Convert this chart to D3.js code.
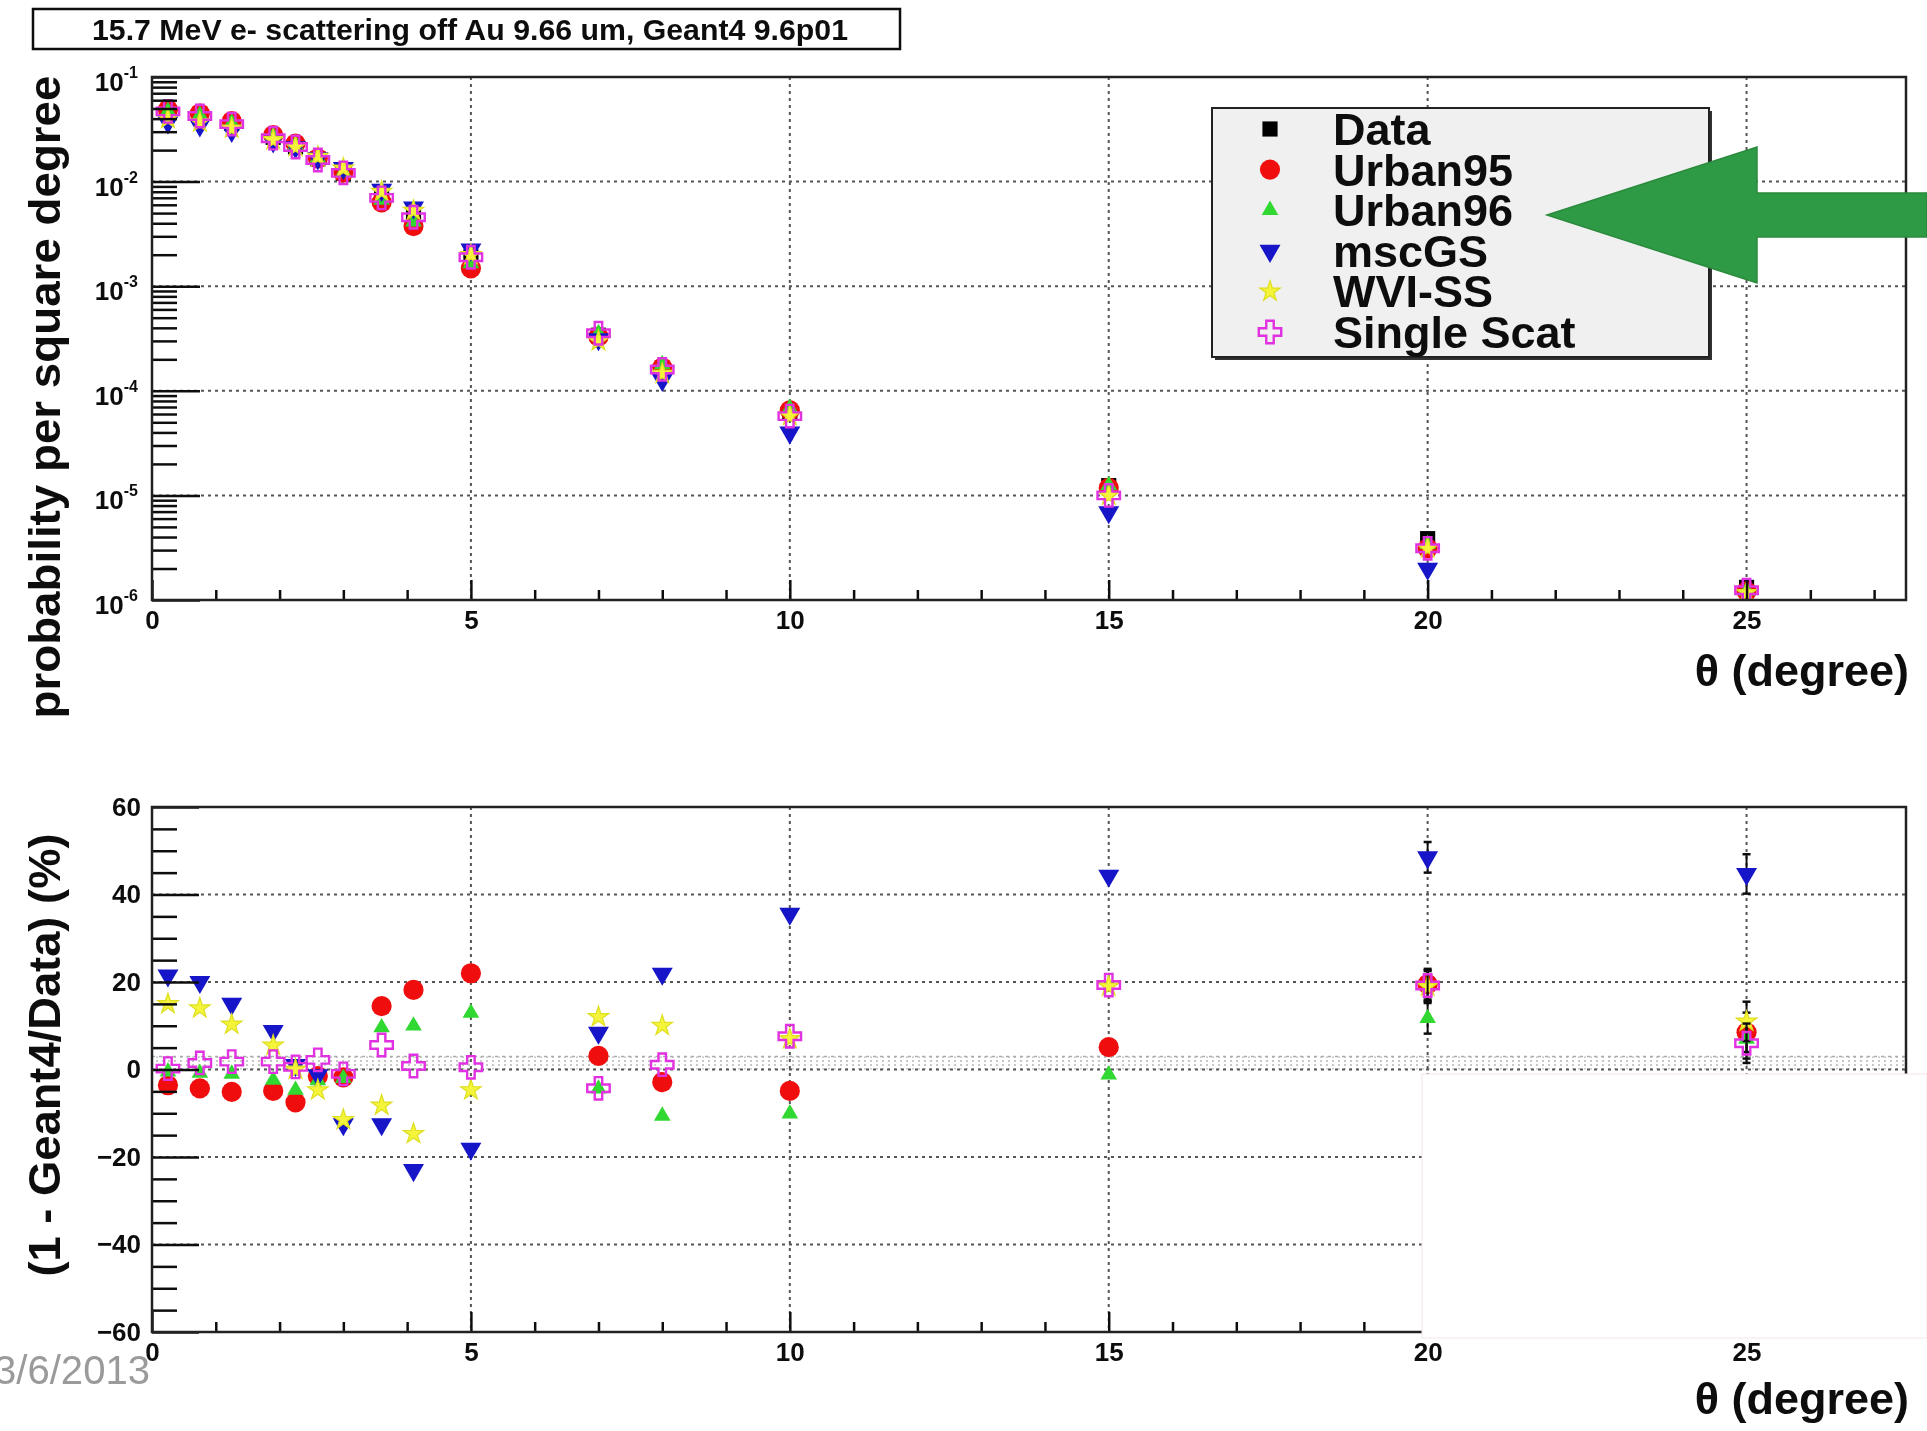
<!DOCTYPE html>
<html>
<head>
<meta charset="utf-8">
<script src="https://cdn.jsdelivr.net/npm/d3@7"></script>
<style>
  html, body { margin: 0; padding: 0; background: #fff; }
  svg { display: block; }
</style>
</head>
<body>
<svg id="chart" width="1927" height="1431"></svg>
<script>
// ---- data ---------------------------------------------------------------
// scattering angle of each measured bin (degree)
const theta = [0.25, 0.75, 1.25, 1.9, 2.25, 2.6, 3.0, 3.6, 4.1, 5, 7, 8, 10, 15, 20, 25];

const seriesNames = ["Data", "Urban95", "Urban96", "mscGS", "WVI-SS", "Single Scat"];
const modelNames  = ["Urban95", "Urban96", "mscGS", "WVI-SS", "Single Scat"];

// probability per square degree
const probData      = [0.047, 0.043, 0.036, 0.0265, 0.0215, 0.0165, 0.0120, 0.0074, 0.0046, 0.00190, 3.40e-4, 1.62e-4, 6.20e-5, 1.24e-5, 3.86e-6, 1.32e-6];
const probUrban95   = [0.0487, 0.0448, 0.0378, 0.0278, 0.0231, 0.0167, 0.0122, 0.00633, 0.00376, 0.00148, 3.29e-4, 1.67e-4, 6.50e-5, 1.18e-5, 3.11e-6, 1.21e-6];
const probUrban96   = [0.0472, 0.0433, 0.0364, 0.0271, 0.0225, 0.0169, 0.01224, 0.00669, 0.00414, 0.00165, 3.55e-4, 1.79e-4, 6.83e-5, 1.25e-5, 3.41e-6, 1.23e-6];
const probMscGS     = [0.0369, 0.0344, 0.0306, 0.0242, 0.0213, 0.0167, 0.0135, 0.00833, 0.00566, 0.00224, 3.11e-4, 1.27e-4, 3.99e-5, 6.91e-6, 1.99e-6, 7.3e-7];
const probWVISS     = [0.0400, 0.0370, 0.0323, 0.0250, 0.0215, 0.01728, 0.01338, 0.0080, 0.00528, 0.00199, 2.99e-4, 1.46e-4, 5.77e-5, 1.00e-5, 3.13e-6, 1.17e-6];
const probSingle    = [0.0469, 0.0424, 0.0354, 0.0260, 0.0214, 0.0161, 0.01212, 0.00699, 0.00456, 0.00189, 3.55e-4, 1.60e-4, 5.73e-5, 1.00e-5, 3.12e-6, 1.24e-6];

// (1 - Geant4/Data) in percent
const ratioUrban95  = [-3.6, -4.3, -5.1, -4.9, -7.5, -1.5, -1.8, 14.5, 18.2, 22.0, 3.1, -2.9, -4.9, 5.1, 19.5, 8.5];
const ratioUrban96  = [-0.5, -0.8, -1.0, -2.4, -4.7, -2.5, -2.0, 9.6, 10.0, 12.9, -4.4, -10.6, -10.1, -1.2, 11.7, 7.0];
const ratioMscGS    = [21.5, 20.0, 15.0, 8.8, 1.0, -1.3, -12.5, -12.5, -23.0, -18.1, 8.4, 21.9, 35.6, 44.3, 48.5, 44.7];
const ratioWVISS    = [15.0, 14.0, 10.3, 5.5, 0.0, -4.7, -11.5, -8.2, -14.7, -4.7, 12.0, 10.0, 7.0, 19.0, 19.0, 11.0];
const ratioSingle   = [0.2, 1.5, 1.8, 1.8, 0.6, 2.2, -1.0, 5.6, 0.8, 0.5, -4.3, 1.1, 7.6, 19.3, 19.2, 6.0];
// statistical error on the ratio, per bin (percent)
const ratioErr      = [0.4, 0.4, 0.4, 0.5, 0.5, 0.6, 0.6, 0.8, 0.8, 1.0, 1.2, 1.3, 1.6, 2.2, 3.5, 4.5];

const xTickValues     = [0, 5, 10, 15, 20, 25];
const logTickExponent = [-1, -2, -3, -4, -5, -6];
const ratioTickValues = [60, 40, 20, 0, -20, -40, -60];
const ratioGridValues = [40, 20, 0, -20, -40];

const titleText  = "15.7 MeV e- scattering off Au 9.66 um, Geant4 9.6p01";
const dateText   = "3/6/2013";

// ---- styling of each series --------------------------------------------
const style = {
  "Data":        { shape: "square",   fill: "#000000", stroke: "none",    size: 230 },
  "Urban95":     { shape: "circle",   fill: "#f01010", stroke: "none",    size: 320 },
  "Urban96":     { shape: "triUp",    fill: "#30d830", stroke: "none",    size: 120 },
  "mscGS":       { shape: "triDown",  fill: "#1414c8", stroke: "none",    size: 190 },
  "WVI-SS":      { shape: "star",     fill: "#f4f43a", stroke: "#dede20", size: 130 },
  "Single Scat": { shape: "cross",    fill: "none",    stroke: "#e030e0", size: 280 }
};
const probSeries  = [probData, probUrban95, probUrban96, probMscGS, probWVISS, probSingle];
const ratioSeries = [ratioUrban95, ratioUrban96, ratioMscGS, ratioWVISS, ratioSingle];

function symbolPath(name) {
  const s = style[name];
  const types = { square: d3.symbolSquare, circle: d3.symbolCircle, triUp: d3.symbolTriangle,
                  triDown: d3.symbolTriangle, star: d3.symbolStar, cross: d3.symbolCross };
  return d3.symbol().type(types[s.shape]).size(s.size)();
}
function drawMarker(g, name, x, y) {
  const s = style[name];
  const p = g.append("path")
    .attr("d", symbolPath(name))
    .attr("transform", `translate(${x},${y})` + (s.shape === "triDown" ? " rotate(180)" : ""))
    .attr("fill", s.fill)
    .attr("stroke", s.stroke);
  if (s.shape === "cross") p.attr("stroke-width", 2.4);
  if (s.shape === "star") p.attr("stroke-width", 1.2);
  return p;
}

// ---- layout ------------------------------------------------------------
const FONT = "'Liberation Sans', Arial, Helvetica, sans-serif";
const svg = d3.select("#chart");
const left = 152, right = 1906;
const top1 = 77, bot1 = 600;
const top2 = 807, bot2 = 1332;

const x = d3.scaleLinear().domain([0, 27.5]).range([left, right]);
const yProb = d3.scaleLog().domain([1e-6, 1e-1]).range([bot1, top1]);
const yRatio = d3.scaleLinear().domain([-60, 60]).range([bot2, top2]);

const defs = svg.append("defs");
defs.append("clipPath").attr("id", "clipTop")
  .append("rect").attr("x", left).attr("y", top1).attr("width", right - left).attr("height", bot1 - top1);
defs.append("clipPath").attr("id", "clipBot")
  .append("rect").attr("x", left).attr("y", top2).attr("width", right - left).attr("height", bot2 - top2);
const dots = defs.append("pattern").attr("id", "stipple").attr("patternUnits", "userSpaceOnUse")
  .attr("width", 6).attr("height", 4);
dots.append("rect").attr("width", 2).attr("height", 2).attr("fill", "#c8c8c8");

const soft = defs.append("filter").attr("id", "soft");
soft.append("feGaussianBlur").attr("stdDeviation", 0.6);

const root = svg.append("g").attr("filter", "url(#soft)");

// ---- title box ---------------------------------------------------------
root.append("rect").attr("x", 33).attr("y", 9).attr("width", 867).attr("height", 40)
  .attr("fill", "#fff").attr("stroke", "#111").attr("stroke-width", 2.5);
root.append("text").attr("x", 470).attr("y", 40).attr("text-anchor", "middle")
  .attr("font-family", FONT).attr("font-weight", "bold").attr("font-size", 30)
  .attr("textLength", 756).attr("lengthAdjust", "spacingAndGlyphs")
  .attr("fill", "#111").text(titleText);

// ---- helpers -----------------------------------------------------------
function gridlines(g, yTop, yBot, yVals, yScale) {
  const dash = "3,4";
  g.selectAll(null).data(xTickValues.filter(v => v > 0)).join("line")
    .attr("x1", d => x(d)).attr("x2", d => x(d)).attr("y1", yTop).attr("y2", yBot)
    .attr("stroke", "#555").attr("stroke-width", 2).attr("stroke-dasharray", dash);
  g.selectAll(null).data(yVals).join("line")
    .attr("x1", left).attr("x2", right).attr("y1", d => yScale(d)).attr("y2", d => yScale(d))
    .attr("stroke", "#555").attr("stroke-width", 2).attr("stroke-dasharray", dash);
}

function xAxis(yPos) {
  const minor = d3.range(1, 28).filter(v => v % 5 !== 0);
  const gMinor = root.append("g").attr("transform", `translate(0,${yPos})`)
    .call(d3.axisBottom(x).tickValues(minor).tickSizeInner(-10).tickSizeOuter(0).tickFormat(""));
  const gMajor = root.append("g").attr("transform", `translate(0,${yPos})`)
    .call(d3.axisBottom(x).tickValues(xTickValues).tickSizeInner(-20).tickSizeOuter(0).tickPadding(11)
      .tickFormat(d3.format("d")));
  [gMinor, gMajor].forEach(g => {
    g.select(".domain").remove();
    g.selectAll("line").attr("stroke", "#111").attr("stroke-width", 2.5);
    g.selectAll("text").attr("font-family", FONT).attr("font-weight", "bold")
      .attr("font-size", 26).attr("fill", "#111");
  });
}

// ---- top panel ---------------------------------------------------------
const gTopGrid = root.append("g");
gridlines(gTopGrid, top1, bot1, logTickExponent.slice(1, 5).map(e => Math.pow(10, e)), yProb);

const gTopPts = root.append("g").attr("clip-path", "url(#clipTop)");
seriesNames.forEach((name, si) => {
  probSeries[si].forEach((v, i) => {
    if (v < 1e-6) return;
    drawMarker(gTopPts, name, x(theta[i]), yProb(v));
  });
});

// log axis: majors at each decade, minors at 2..9
{
  const majors = logTickExponent.map(e => Math.pow(10, e));
  const minors = [];
  for (let e = -6; e < -1; e++) for (let m = 2; m <= 9; m++) minors.push(m * Math.pow(10, e));
  const gMin = root.append("g").attr("transform", `translate(${left},0)`)
    .call(d3.axisLeft(yProb).tickValues(minors).tickSizeInner(-25).tickSizeOuter(0).tickFormat(""));
  const gMaj = root.append("g").attr("transform", `translate(${left},0)`)
    .call(d3.axisLeft(yProb).tickValues(majors).tickSizeInner(-48).tickSizeOuter(0).tickPadding(14)
      .tickFormat(() => ""));
  [gMin, gMaj].forEach(g => {
    g.select(".domain").remove();
    g.selectAll("line").attr("stroke", "#111").attr("stroke-width", 2.5);
  });
  gMaj.selectAll("text").each(function (d) {
    const t = d3.select(this)
      .attr("font-family", FONT).attr("font-weight", "bold").attr("font-size", 26).attr("fill", "#111")
      .attr("dy", "0.52em");
    t.append("tspan").text("10");
    t.append("tspan").attr("dy", -13).attr("font-size", 16).text(Math.round(Math.log10(d)));
  });
}
xAxis(bot1);

root.append("rect").attr("x", left).attr("y", top1).attr("width", right - left).attr("height", bot1 - top1)
  .attr("fill", "none").attr("stroke", "#222").attr("stroke-width", 2.5);

// ---- bottom panel ------------------------------------------------------
root.append("rect").attr("x", left).attr("y", yRatio(3)).attr("width", right - left)
  .attr("height", yRatio(0) - yRatio(3)).attr("fill", "url(#stipple)");
root.append("line").attr("x1", left).attr("x2", right).attr("y1", yRatio(3)).attr("y2", yRatio(3))
  .attr("stroke", "#aaa").attr("stroke-width", 1.5).attr("stroke-dasharray", "3,4");

const gBotGrid = root.append("g");
gridlines(gBotGrid, top2, bot2, ratioGridValues, yRatio);

const gBotPts = root.append("g").attr("clip-path", "url(#clipBot)");
modelNames.forEach((name, si) => {
  ratioSeries[si].forEach((v, i) => {
    const cx = x(theta[i]);
    const e = ratioErr[i];
    if (e > 3) {
      gBotPts.append("line").attr("x1", cx).attr("x2", cx)
        .attr("y1", yRatio(v - e)).attr("y2", yRatio(v + e))
        .attr("stroke", "#111").attr("stroke-width", 2);
      [v - e, v + e].forEach(t => gBotPts.append("line")
        .attr("x1", cx - 4).attr("x2", cx + 4).attr("y1", yRatio(t)).attr("y2", yRatio(t))
        .attr("stroke", "#111").attr("stroke-width", 2.5));
    }
    drawMarker(gBotPts, name, cx, yRatio(v));
  });
});

{
  const minors = d3.range(-60, 61, 5).filter(v => v % 20 !== 0);
  const gMin = root.append("g").attr("transform", `translate(${left},0)`)
    .call(d3.axisLeft(yRatio).tickValues(minors).tickSizeInner(-25).tickSizeOuter(0).tickFormat(""));
  const gMaj = root.append("g").attr("transform", `translate(${left},0)`)
    .call(d3.axisLeft(yRatio).tickValues(ratioTickValues).tickSizeInner(-47).tickSizeOuter(0).tickPadding(11)
      .tickFormat(d3.format("d")));
  [gMin, gMaj].forEach(g => {
    g.select(".domain").remove();
    g.selectAll("line").attr("stroke", "#111").attr("stroke-width", 2.5);
    g.selectAll("text").attr("font-family", FONT).attr("font-weight", "bold")
      .attr("font-size", 26).attr("fill", "#111");
  });
}
xAxis(bot2);

root.append("rect").attr("x", left).attr("y", top2).attr("width", right - left).attr("height", bot2 - top2)
  .attr("fill", "none").attr("stroke", "#222").attr("stroke-width", 2.5);

// ---- axis titles -------------------------------------------------------
function title(txt, tx, ty, rot, anchor, len) {
  const t = root.append("text")
    .attr("transform", `translate(${tx},${ty})` + (rot ? ` rotate(${rot})` : ""))
    .attr("text-anchor", anchor)
    .attr("font-family", FONT).attr("font-weight", "bold").attr("font-size", 45).attr("fill", "#111")
    .text(txt);
  if (len) t.attr("textLength", len).attr("lengthAdjust", "spacingAndGlyphs");
  return t;
}
title("θ (degree)", 1909, 686, 0, "end");
title("θ (degree)", 1909, 1414, 0, "end");
title("probability per square degree", 60, 397, -90, "middle", 643);
title("(1 - Geant4/Data) (%)", 60, 1055, -90, "middle", 443);

// ---- legend ------------------------------------------------------------
{
  const lx = 1212, ly = 108, lw = 497, lh = 249;
  root.append("rect").attr("x", lx + 3).attr("y", ly + 3).attr("width", lw).attr("height", lh).attr("fill", "#333");
  root.append("rect").attr("x", lx).attr("y", ly).attr("width", lw).attr("height", lh)
    .attr("fill", "#f0f0f0").attr("stroke", "#222").attr("stroke-width", 2);
  const gLeg = root.append("g");
  seriesNames.forEach((name, i) => {
    const cy = 129 + i * 40.6;
    drawMarker(gLeg, name, 1270, cy);
    gLeg.append("text").attr("x", 1333).attr("y", cy + 16)
      .attr("font-family", FONT).attr("font-weight", "bold").attr("font-size", 45).attr("fill", "#111")
      .text(name);
  });
}

// ---- annotation arrow pointing at the Urban96 entry ----------------------
{
  const tipX = 1547, tipY = 215, baseX = 1757;
  const pts = [[tipX, tipY], [baseX, 147], [baseX, 193], [1927, 193], [1927, 237], [baseX, 237], [baseX, 283]];
  root.append("path").attr("d", d3.line()(pts) + "Z")
    .attr("fill", "#2f9a44").attr("stroke", "#2a8a3d").attr("stroke-width", 1.5);
}

// ---- white block over the lower right corner ----------------------------
root.append("rect").attr("x", 1422).attr("y", 1074).attr("width", 505).attr("height", 264)
  .attr("fill", "#fff").attr("stroke", "#f6e4e4").attr("stroke-width", 1);

// ---- slide footer date ---------------------------------------------------
root.append("text").attr("x", 150).attr("y", 1384).attr("text-anchor", "end")
  .attr("font-family", "'Liberation Sans Narrow', 'Liberation Sans', sans-serif").attr("font-size", 40)
  .attr("textLength", 156).attr("lengthAdjust", "spacingAndGlyphs")
  .attr("fill", "#9a9a9a").text(dateText);
</script>
</body>
</html>
